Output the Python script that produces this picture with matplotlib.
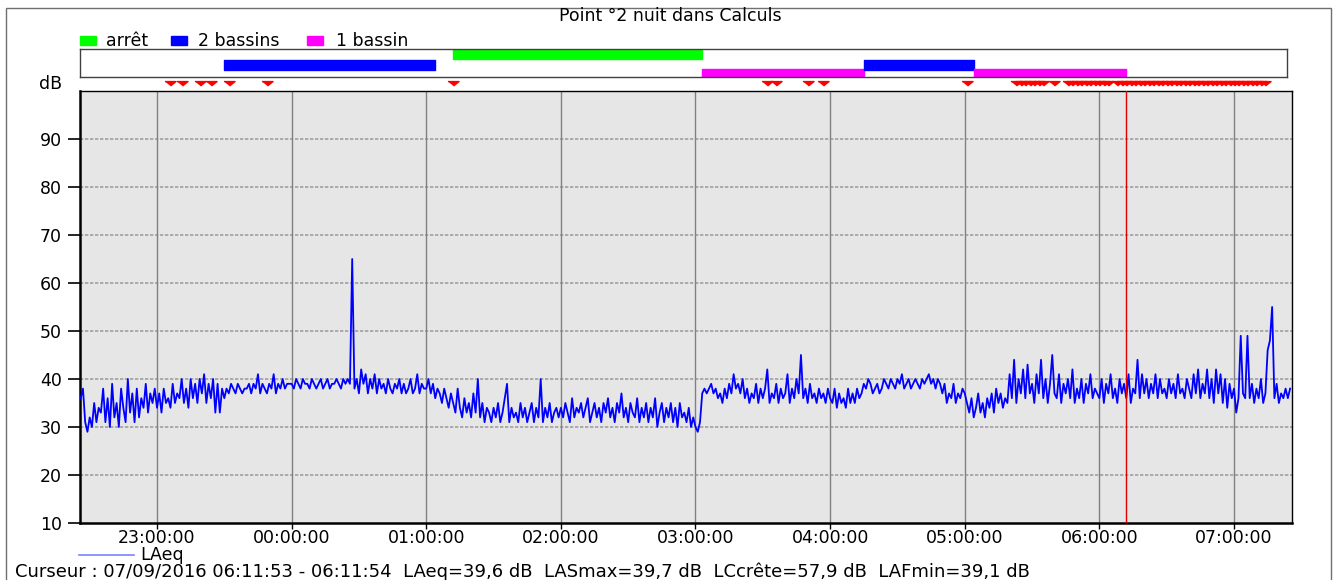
import matplotlib
matplotlib.use("Agg")
import matplotlib.pyplot as plt
import matplotlib.dates as mdates
from matplotlib.patches import Rectangle
from matplotlib.lines import Line2D
from datetime import datetime, timedelta
import numpy as np

plt.rcParams['font.family'] = ['DejaVu Sans']

# LAeq, one value per minute from 22:26
laeq_2226 = [36, 38, 31, 29, 32, 30, 35, 31, 34, 33, 38, 31, 36, 30, 39, 32, 35,
             30, 38, 34, 31, 40, 33, 37, 31, 38, 32, 36, 34, 39, 33, 37, 35, 38]
laeq_23 = [34, 37, 33, 38, 35, 36, 34, 39, 35, 37,
           36, 40, 35, 38, 34, 40, 36, 39, 35, 40,
           37, 41, 35, 39, 36, 40, 33, 39, 33, 38,
           36, 38, 37, 39, 38, 37, 39, 38, 37, 38,
           38, 39, 37, 39, 38, 41, 37, 39, 38, 37,
           39, 38, 41, 37, 39, 38, 40, 38, 39, 39]
laeq_00 = [39, 38, 40, 39, 38, 40, 39, 39, 38, 40,
           39, 38, 39, 40, 38, 39, 40, 38, 39, 39,
           40, 39, 38, 40, 39, 40, 39, 65, 38, 40,
           37, 42, 39, 41, 37, 40, 38, 41, 37, 40,
           38, 39, 37, 40, 38, 37, 39, 38, 40, 37,
           39, 37, 38, 40, 37, 38, 41, 37, 39, 38]
laeq_01 = [38, 40, 37, 39, 36, 38, 37, 35, 38, 36,
           34, 37, 35, 33, 38, 34, 32, 36, 33, 35,
           32, 37, 33, 40, 32, 35, 31, 34, 33, 31,
           34, 32, 35, 31, 33, 36, 39, 31, 34, 32,
           33, 31, 35, 32, 34, 31, 33, 35, 31, 34,
           32, 40, 31, 34, 32, 35, 31, 33, 34, 32]
laeq_02 = [34, 32, 35, 33, 31, 36, 32, 34, 33, 35,
           32, 34, 36, 31, 33, 35, 32, 34, 31, 35,
           33, 36, 32, 34, 31, 35, 33, 37, 32, 34,
           31, 35, 33, 32, 36, 31, 34, 32, 35, 31,
           34, 32, 36, 30, 33, 35, 31, 34, 32, 35,
           31, 34, 30, 35, 32, 33, 31, 34, 30, 32]
laeq_03 = [30, 29, 31, 37, 38, 37, 38, 39, 37, 38,
           36, 37, 35, 38, 36, 39, 37, 41, 38, 39,
           37, 40, 36, 38, 35, 37, 36, 39, 35, 38,
           36, 38, 42, 35, 37, 36, 39, 35, 38, 36,
           37, 41, 35, 38, 36, 40, 37, 45, 36, 38,
           35, 39, 36, 37, 35, 38, 36, 37, 35, 38]
laeq_04 = [36, 35, 38, 34, 37, 35, 36, 34, 38, 35,
           37, 35, 38, 36, 37, 39, 38, 40, 39, 37,
           38, 39, 37, 38, 40, 39, 38, 40, 39, 38,
           40, 39, 41, 38, 39, 40, 38, 39, 40, 39,
           38, 40, 39, 40, 41, 39, 40, 38, 40, 39,
           37, 39, 35, 37, 36, 39, 35, 37, 36, 38]
laeq_05 = [37, 35, 33, 36, 32, 34, 37, 33, 35, 32,
           36, 34, 37, 33, 38, 35, 37, 34, 36, 35,
           41, 36, 44, 35, 40, 37, 42, 36, 43, 37,
           39, 35, 41, 37, 44, 36, 40, 35, 39, 45,
           37, 36, 41, 35, 39, 37, 40, 36, 42, 35,
           38, 36, 40, 35, 39, 37, 41, 36, 38, 37]
laeq_06 = [36, 40, 35, 39, 37, 41, 36, 38, 35, 40,
           37, 39, 36, 41, 35, 38, 37, 44, 36, 41,
           37, 40, 36, 39, 37, 41, 36, 40, 37, 38,
           36, 40, 37, 39, 36, 41, 37, 38, 36, 40,
           38, 36, 41, 37, 42, 36, 39, 37, 42, 36,
           40, 35, 42, 37, 41, 35, 40, 34, 39, 36]
laeq_07 = [38, 33, 36, 49, 37, 36, 49, 36, 39, 35,
           38, 36, 40, 35, 37, 46, 48, 55, 36, 39,
           35, 37, 36, 38, 36, 38]

band_start = ["23:30", "01:12", "03:03", "04:15", "05:04"]
band_end = ["01:04", "03:03", "04:15", "05:04", "06:12"]
band_mode = ["2 bassins", "arrêt", "1 bassin", "2 bassins", "1 bassin"]
modes = ["arrêt", "2 bassins", "1 bassin"]
mode_colors = ["#00ff00", "#0000ff", "#ff00ff"]

events = ["23:06", "23:11", "23:19", "23:24", "23:32", "23:49", "01:12",
          "03:32", "03:36", "03:50", "03:57", "05:01",
          "05:23", "05:25", "05:27", "05:29", "05:31", "05:33", "05:35", "05:40",
          "05:46", "05:48", "05:50", "05:52", "05:54", "05:56", "05:58", "06:00",
          "06:02", "06:04", "06:08", "06:10", "06:12", "06:14", "06:16", "06:18",
          "06:20", "06:22", "06:24", "06:26", "06:28", "06:30", "06:32", "06:34",
          "06:36", "06:38", "06:40", "06:42", "06:44", "06:46", "06:48", "06:50",
          "06:52", "06:54", "06:56", "06:58", "07:00", "07:02", "07:04", "07:06",
          "07:08", "07:10", "07:12", "07:14"]


def hm(s):
    h, m = map(int, s.split(":"))
    day = 6 if h >= 12 else 7
    return datetime(2016, 9, day, h, m)


laeq = np.concatenate([laeq_2226, laeq_23, laeq_00, laeq_01, laeq_02,
                       laeq_03, laeq_04, laeq_05, laeq_06, laeq_07])
t0 = datetime(2016, 9, 6, 22, 26)
times = [t0 + timedelta(minutes=i) for i in range(len(laeq))]

xmin = datetime(2016, 9, 6, 22, 25, 41)
xmax = datetime(2016, 9, 7, 7, 25, 51)
band_xmax = datetime(2016, 9, 7, 7, 23, 38)
cursor = datetime(2016, 9, 7, 6, 11, 53)

W, H = 1336, 580
fig = plt.figure(figsize=(W / 100, H / 100), dpi=100)


def fx(px):
    return px / W


def fy(py):
    return 1 - py / H


fs = 12.5

# outer frame
fig.patches.append(Rectangle((fx(6), -0.05), fx(1331 - 6), fy(8) + 0.05,
                             transform=fig.transFigure, fill=False,
                             edgecolor='#707070', lw=1))

# main plot
ax = fig.add_axes([fx(80), fy(523), fx(1292 - 80), (523 - 91) / H])
ax.set_facecolor('#e6e6e6')
for y in range(20, 100, 10):
    ax.axhline(y, color='#a0a0a0', lw=1.2, ls=(0, (2, 1)), zorder=1)
ax.xaxis.set_major_locator(mdates.HourLocator())
ax.xaxis.set_major_formatter(mdates.DateFormatter('%H:%M:%S'))
ax.grid(axis='x', color='#808080', lw=1, zorder=1)
ax.plot(times, laeq, color='#0000ff', lw=1.3, zorder=3)
ax.axvline(cursor, color='#e00000', lw=1, zorder=4)
ax.set_xlim(xmin, xmax)
ax.set_ylim(10, 100)
ax.set_yticks(range(10, 100, 10))
ax.tick_params(axis='y', length=9, width=1.2, pad=4, labelsize=fs)
ax.tick_params(axis='x', length=4, width=1, pad=0, labelsize=fs)
for s in ax.spines.values():
    s.set_color('black')
    s.set_linewidth(1)
ax.spines['left'].set_linewidth(1.8)
ax.spines['bottom'].set_linewidth(1.8)

# operating mode bands
bx = fig.add_axes([fx(80), fy(77), fx(1287 - 80), 28 / H])
bx.set_xlim(xmin, band_xmax)
bx.set_ylim(0, 3)
bx.set_xticks([])
bx.set_yticks([])
for s in bx.spines.values():
    s.set_color('#404040')
    s.set_linewidth(1)
row_y = {"arrêt": (1.9, 1.1), "2 bassins": (0.8, 1.05), "1 bassin": (0.0, 0.85)}
for st, en, md in zip(band_start, band_end, band_mode):
    a, b = mdates.date2num(hm(st)), mdates.date2num(hm(en))
    bx.broken_barh([(a, b - a)], row_y[md], color=mode_colors[modes.index(md)])

# event markers
mx = fig.add_axes([fx(80), fy(90), fx(1292 - 80), 12 / H])
mx.set_xlim(xmin, xmax)
mx.set_ylim(0, 1)
mx.axis('off')
tri = [(-1, 0.35), (1, 0.35), (0, -0.45)]
mx.plot([hm(e) for e in events], [0.55] * len(events), ls='none',
        marker=tri, ms=8, color='#ff0000', mec='#ff0000')

# texts
fig.text(fx(670), fy(16), "Point °2 nuit dans Calculs", ha='center', va='center', fontsize=fs)
fig.text(fx(62), fy(84), "dB", ha='right', va='center', fontsize=fs)
leg_x = [80, 171, 307]
lab_x = [106, 198, 336]
for m, c, lx, tx in zip(modes, mode_colors, leg_x, lab_x):
    fig.patches.append(Rectangle((fx(lx), fy(45)), fx(16), 9 / H,
                                 transform=fig.transFigure, color=c))
    fig.text(fx(tx), fy(41), m, ha='left', va='center', fontsize=fs)

fig.lines.append(Line2D([fx(79), fx(134)], [fy(555), fy(555)],
                        transform=fig.transFigure, color='#7f7fff', lw=1.2))
fig.text(fx(140), fy(555), "LAeq", ha='left', va='center', fontsize=fs)
fig.text(fx(15), fy(572),
         "Curseur : 07/09/2016 06:11:53 - 06:11:54  LAeq=39,6 dB  LASmax=39,7 dB  "
         "LCcrête=57,9 dB  LAFmin=39,1 dB",
         ha='left', va='center', fontsize=13)

fig.savefig("out.png", dpi=100)
